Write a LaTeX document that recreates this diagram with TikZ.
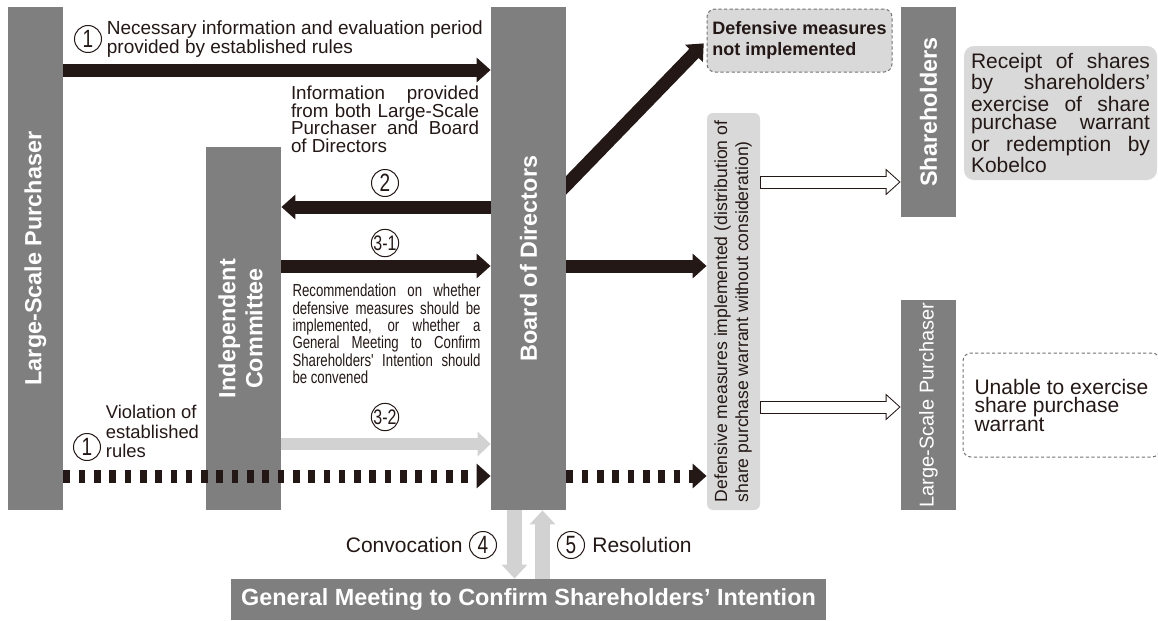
\documentclass[tikz,border=0pt]{standalone}
\usepackage{fontspec}
\setmainfont{Liberation Sans}
\newfontfamily\narrowsf[FakeStretch=0.76]{Liberation Sans}
\usetikzlibrary{arrows.meta, positioning, calc, backgrounds}

\definecolor{ink}{RGB}{35,24,21}
\definecolor{boxgray}{RGB}{127,127,127}
\definecolor{panelgray}{RGB}{217,217,217}
\definecolor{arrowgray}{RGB}{210,210,210}
\definecolor{edgegray}{RGB}{115,115,115}

\newcommand{\turnup}[1]{\rotatebox{90}{#1}}

\begin{document}
\begin{tikzpicture}[
    x=0.5pt, y=-0.5pt,
    every node/.style={inner sep=0pt, text=ink},
    block/.style={
        fill=boxgray,
        text=white,
        font=\fontsize{11.7}{13.5}\selectfont\bfseries
    },
    panel/.style={fill=panelgray, rounded corners=3pt},
    dashbox/.style={draw=edgegray, line width=0.5pt, dash pattern=on 1.6pt off 1.2pt, rounded corners=4pt},
    num/.style={circle, draw=ink, line width=0.5pt, minimum size=13.5pt, font=\narrowsf\fontsize{12.5}{12.5}\selectfont},
    subnum/.style={num, font=\narrowsf\fontsize{10.5}{10.5}\selectfont},
    note/.style={font=\fontsize{9.5}{9.5}\selectfont},
    fat/.style={draw=ink, line width=6.5pt, -{Triangle[length=7pt, width=12pt]}},
    fatdash/.style={fat, dash pattern=on 3.3pt off 4.35pt},
    pale/.style={draw=arrowgray, line width=6pt, -{Triangle[length=6.5pt, width=12pt]}},
    palev/.style={draw=arrowgray, line width=7.5pt, -{Triangle[length=7pt, width=12.5pt]}},
    hollow/.style={
        draw=white, line width=5.5pt, shorten <=0.5pt, shorten >=0.76pt,
        -{Triangle[length=6.24pt, width=10.8pt]},
        preaction={draw=ink, line width=6.5pt, shorten <=0pt, shorten >=0pt, -{Triangle[length=7.5pt, width=13pt]}}
    }
]
\useasboundingbox (0,0) rectangle (1158,621);

% ---------------- PARTIES ----------------
\node[block, minimum width=27.5pt,  minimum height=251.5pt] (lsp)   at (35.5,258.5)  {\turnup{Large-Scale Purchaser}};
\node[block, minimum width=37.5pt,  minimum height=251.5pt] (board) at (528.5,258.5) {\turnup{Board of Directors}};
\node[block, minimum width=37.5pt,  minimum height=181.5pt] (ic)    at (243.5,328.5) {\turnup{\begin{tabular}{@{}c@{}}Independent\\Committee\end{tabular}}};
\node[block, minimum width=27.5pt,  minimum height=105pt]   (share) at (928.5,112)   {\turnup{Shareholders}};
\node[block, minimum width=27.5pt,  minimum height=105pt, font=\fontsize{10}{10}\selectfont] (lsp2) at (928.5,405) {\turnup{Large-Scale Purchaser}};
\node[block, minimum width=297.5pt, minimum height=20.5pt]  (gm)    at (528.5,599.5) {General Meeting to Confirm Shareholders' Intention};

% ---------------- OUTCOMES ----------------
\node[panel, dashbox, minimum width=92.5pt, minimum height=31.5pt, align=left, font=\fontsize{9}{10.5}\selectfont\bfseries] (notimpl) at (799.5,40.5) {Defensive measures\\not implemented};
\node[panel, minimum width=26.5pt, minimum height=198.5pt, font=\fontsize{8.8}{10.5}\selectfont] (impl) at (733.5,311.5) {\turnup{\begin{tabular}{@{}l@{}}Defensive measures implemented (distribution of\\share purchase warrant without consideration)\end{tabular}}};
\node[panel, rounded corners=5pt, minimum width=96.5pt, minimum height=67pt, text width=89.5pt, align=justify, font=\fontsize{10.5}{9.3}\selectfont] (receipt) at (1060.5,113) {Receipt of shares\linebreak by shareholders'\linebreak exercise of share\linebreak purchase warrant\linebreak or redemption by\linebreak Kobelco};
\node[dashbox, minimum width=98.5pt, minimum height=52pt, align=left, font=\fontsize{10.5}{9.25}\selectfont] (unable) at (1061.5,405) {Unable to exercise\\share purchase\\warrant};

% ---------------- LABELS ----------------
\node[num]    (c1a) at (88,39)   {1};
\node[num]    (c2)  at (385,183) {2};
\node[subnum] (c31) at (385,243) {3-1};
\node[subnum] (c32) at (385,417) {3-2};
\node[num]    (c1b) at (87,447)  {1};
\node[num]    (c4)  at (483,545) {4};
\node[num]    (c5)  at (571,545) {5};

\node[note, right=2.25pt of c1a, align=left] (l1a) {Necessary information and evaluation period\\provided by established rules};
\node[note, above=8pt of c2, text width=94pt, align=justify, font=\fontsize{9.4}{8.85}\selectfont] (l2) {Information provided\linebreak from both Large-Scale\linebreak Purchaser and Board\linebreak of Directors};
\node[note, text width=94pt, align=justify, font=\narrowsf\fontsize{8.7}{8.65}\selectfont] (l31) at (386.5,334) {Recommendation on whether\linebreak defensive measures should be\linebreak implemented, or whether a\linebreak General Meeting to Confirm\linebreak Shareholders' Intention should\linebreak be convened};
\node[note, right=2.25pt of c1b, yshift=7.75pt, align=left, font=\fontsize{9.2}{9.75}\selectfont] (l1b) {Violation of\\established\\rules};
\node[note, left=3pt of c4,  font=\fontsize{10.5}{10.5}\selectfont] (l4) {Convocation};
\node[note, right=3.5pt of c5, font=\fontsize{10.5}{10.5}\selectfont] (l5) {Resolution};

% rows of the arrows
\coordinate (r1) at (0,70);
\coordinate (r2) at (0,207);
\coordinate (r3) at (0,266);
\coordinate (r4) at (0,444);
\coordinate (r5) at (0,476);
\coordinate (rd) at (0,185);
\coordinate (rs) at (0,182);
\coordinate (rl) at (0,407);
\coordinate (dn) at ([xshift=-7pt]board.south);
\coordinate (up) at ([xshift=7pt]board.south);

% Established rules:
\draw[fat]     (lsp.east   |- r1) -- (board.west |- r1);
\draw[fatdash] (lsp.east   |- r5) -- (board.west |- r5);
\draw[fatdash] (board.east |- r5) -- (impl.west  |- r5);

% Independent Committee:
\draw[fat]  (board.west |- r2) -- (ic.east    |- r2);
\draw[fat]  (ic.east    |- r3) -- (board.west |- r3);
\draw[pale] (ic.east    |- r4) -- (board.west |- r4);

% Board decision:
\draw[fat] (board.east |- r3) -- (impl.west |- r3);
\begin{scope}[on background layer]
\draw[fat, shorten >=2pt] ($(board.east |- rd)!-20pt!(notimpl.west)$) -- (notimpl.west);
\end{scope}

% Result:
\draw[hollow] (impl.east |- rs) -- (share.west |- rs);
\draw[hollow] (impl.east |- rl) -- (lsp2.west  |- rl);

% General Meeting:
\draw[palev] (dn)            -- (dn |- gm.north);
\draw[palev] (up |- gm.north) -- (up);

\end{tikzpicture}
\end{document}
